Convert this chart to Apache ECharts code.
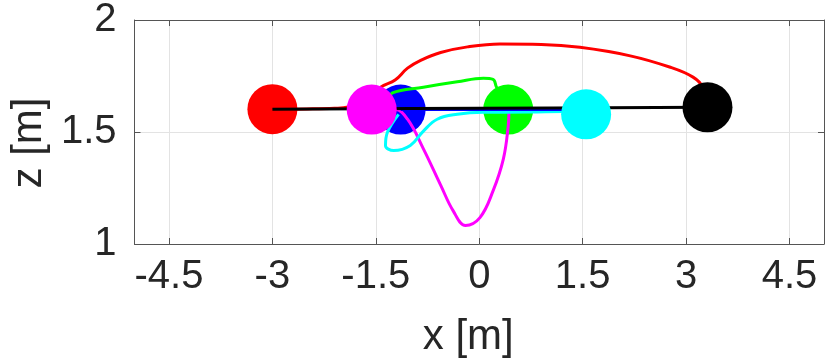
<!DOCTYPE html>
<html>
<head>
<meta charset="utf-8">
<script src="https://cdn.jsdelivr.net/npm/echarts@6/dist/echarts.min.js"></script>
<style>
  html, body { margin: 0; padding: 0; background: #fff; }
  #main { width: 830px; height: 363px; }
</style>
</head>
<body>
<div id="main"></div>
<script>
// tick labels
const xTicks = [-4.5, -3, -1.5, 0, 1.5, 3, 4.5];
const zTicks = [1, 1.5, 2];

// trajectories [x, z]
const redPath = [[-3.0, 1.602], [-2.5, 1.603], [-2.1, 1.606], [-1.9, 1.612], [-1.65, 1.64], [-1.43, 1.70],
  [-1.22, 1.732], [-1.04, 1.785], [-0.85, 1.82], [-0.56, 1.855], [-0.17, 1.88], [0.3, 1.893],
  [0.9, 1.891], [1.46, 1.878], [2.19, 1.84], [2.76, 1.79], [3.10, 1.745], [3.24, 1.70], [3.31, 1.61]];
const greenPath = [[-1.3, 1.64], [-1.26, 1.675], [-0.81, 1.70], [-0.32, 1.724], [0.06, 1.74],
  [0.2, 1.735], [0.25, 1.70], [0.42, 1.60]];
const magentaPath = [[-1.56, 1.60], [-1.22, 1.60], [-1.04, 1.557], [-0.81, 1.425], [-0.56, 1.263],
  [-0.38, 1.149], [-0.2, 1.083], [0.01, 1.118], [0.2, 1.237], [0.35, 1.38], [0.42, 1.526], [0.43, 1.59]];
const cyanPath = [[-1.17, 1.579], [-1.33, 1.50], [-1.36, 1.44], [-1.24, 1.417], [-1.0, 1.44],
  [-0.81, 1.504], [-0.61, 1.557], [-0.32, 1.579], [0.06, 1.588], [0.74, 1.589], [1.22, 1.592], [1.55, 1.579]];
const bluePath = [[-1.14, 1.600], [0, 1.600], [1.2, 1.600], [1.55, 1.59]];
const blackPath = [[-3.0, 1.602], [0, 1.606], [3.31, 1.610]];

// current positions
const lowerDots = [
  { name: 'red', value: [-3.0, 1.602], color: '#ff0000' },
  { name: 'blue', value: [-1.14, 1.60], color: '#0000ff' },
  { name: 'green', value: [0.42, 1.60], color: '#00ff00' }
];
const upperDots = [
  { name: 'magenta', value: [-1.56, 1.60], color: '#ff00ff' },
  { name: 'cyan', value: [1.55, 1.579], color: '#00ffff' },
  { name: 'black', value: [3.31, 1.61], color: '#000000' }
];

var dom = document.getElementById('main');
var myChart = echarts.init(dom, null, { renderer: 'canvas' });

const axisColor = '#555555';
const textColor = '#262626';
const font = '"Liberation Sans", Arial, sans-serif';

function pathSeries(data, color, z) {
  return {
    type: 'line',
    data: data,
    showSymbol: false,
    smooth: 0.4,
    z: z,
    lineStyle: { color: color, width: 3 },
    silent: true
  };
}

function dotSeries(list, z) {
  return {
    type: 'scatter',
    symbolSize: 50,
    z: z,
    data: list.map(d => ({ value: d.value, itemStyle: { color: d.color, opacity: 1 } })),
    silent: true
  };
}

var option = {
  animation: false,
  backgroundColor: '#ffffff',
  grid: { left: 133, right: 6, top: 19, bottom: 116 },
  xAxis: [
    {
      type: 'value', min: -5, max: 5, position: 'bottom',
      name: 'x [m]', nameLocation: 'middle', nameGap: 72,
      nameTextStyle: { fontSize: 42, fontFamily: font, color: textColor, padding: [0, 22, 0, 0] },
      axisLine: { show: true, onZero: false, lineStyle: { color: axisColor, width: 1 } },
      axisTick: { show: true, inside: true, length: 6, customValues: xTicks, lineStyle: { color: axisColor } },
      axisLabel: { customValues: xTicks, fontSize: 40, fontFamily: font, color: textColor, margin: 13 },
      splitLine: { show: true, lineStyle: { color: '#e3e3e3', width: 1 } }
    },
    {
      type: 'value', min: -5, max: 5, position: 'top',
      axisLine: { show: true, onZero: false, lineStyle: { color: axisColor, width: 1 } },
      axisTick: { show: true, inside: true, length: 6, customValues: xTicks, lineStyle: { color: axisColor } },
      axisLabel: { show: false },
      splitLine: { show: false }
    }
  ],
  yAxis: [
    {
      type: 'value', min: 1, max: 2, interval: 0.5, position: 'left',
      name: 'z [m]', nameLocation: 'middle', nameGap: 82, nameRotate: 90,
      nameTextStyle: { fontSize: 42, fontFamily: font, color: textColor, padding: [0, 22, 0, 0] },
      axisLine: { show: true, onZero: false, lineStyle: { color: axisColor, width: 1 } },
      axisTick: { show: true, inside: true, length: 6, lineStyle: { color: axisColor } },
      axisLabel: { fontSize: 40, fontFamily: font, color: textColor, margin: 18 },
      splitLine: { show: true, lineStyle: { color: '#e3e3e3', width: 1 } }
    },
    {
      type: 'value', min: 1, max: 2, interval: 0.5, position: 'right',
      axisLine: { show: true, onZero: false, lineStyle: { color: axisColor, width: 1 } },
      axisTick: { show: true, inside: true, length: 6, lineStyle: { color: axisColor } },
      axisLabel: { show: false },
      splitLine: { show: false }
    }
  ],
  series: [
    dotSeries(lowerDots, 2),
    pathSeries(redPath, '#ff0000', 3),
    pathSeries(greenPath, '#00ff00', 3),
    pathSeries(magentaPath, '#ff00ff', 3),
    pathSeries(cyanPath, '#00ffff', 3),
    pathSeries(bluePath, '#0000ff', 3),
    pathSeries(blackPath, '#000000', 4),
    dotSeries(upperDots, 5)
  ]
};

myChart.setOption(option);
window.addEventListener('resize', myChart.resize);
</script>
</body>
</html>
